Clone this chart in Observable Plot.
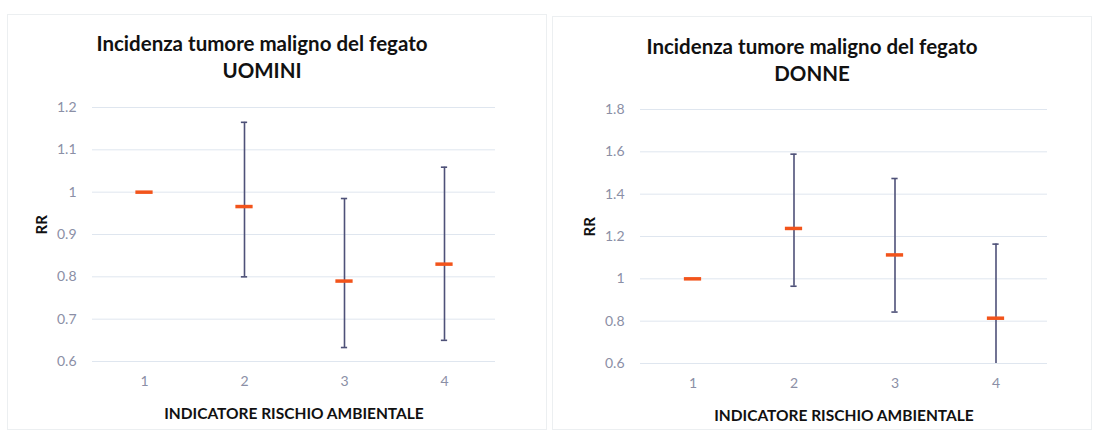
<!DOCTYPE html>
<html>
<head>
<meta charset="utf-8">
<script src="https://cdn.jsdelivr.net/npm/d3@7"></script>
<script src="https://cdn.jsdelivr.net/npm/@observablehq/plot@0.6"></script>
<style>
  html, body { margin: 0; padding: 0; background: #fff; }
  body { width: 1097px; height: 439px; position: relative; overflow: hidden; font-family: Lato, "Open Sans", sans-serif; }
  .panel { position: absolute; top: 0; }
  .frame { position: absolute; border: 1px solid #eceff1; }
  svg { display: block; }
</style>
</head>
<body>
<div class="frame" style="left:7px; top:14px; width:538px; height:414px;"></div>
<div class="frame" style="left:552px; top:16px; width:538px; height:412px;"></div>
<div id="left" class="panel" style="left:0px;"></div>
<div id="right" class="panel" style="left:548px;"></div>
<script>
// ---- data ----
const categories = [1, 2, 3, 4];

const titleLine1 = "Incidenza tumore maligno del fegato";
const xLabel = "INDICATORE RISCHIO AMBIENTALE";
const yLabel = "RR";

// UOMINI
const menTitle = "UOMINI";
const menRR    = [1.0, 0.966, 0.79, 0.83];
const menLower = [null, 0.80, 0.633, 0.65];
const menUpper = [null, 1.165, 0.985, 1.059];
const menTicks = [0.6, 0.7, 0.8, 0.9, 1.0, 1.1, 1.2];

// DONNE
const womenTitle = "DONNE";
const womenRR    = [1.0, 1.238, 1.113, 0.814];
const womenLower = [null, 0.965, 0.843, 0.57];
const womenUpper = [null, 1.589, 1.474, 1.164];
const womenTicks = [0.6, 0.8, 1.0, 1.2, 1.4, 1.6, 1.8];

const fmt = d => String(+d.toFixed(2));

function panel({title2, rr, lower, upper, ticks, width, marginLeft, marginRight, marginTop, marginBottom, t1dy, t2dy}) {
  const rows = categories.map((c, i) => ({c, rr: rr[i], lo: lower[i], hi: upper[i]}));
  const bars = rows.filter(d => d.lo != null);
  const plotW = width - marginLeft - marginRight;
  const bw = plotW / categories.length;
  const capW = 7, markW = 18;
  return Plot.plot({
    width, height: 439,
    marginLeft, marginRight, marginTop, marginBottom,
    style: {fontFamily: "Lato, 'Open Sans', sans-serif", background: "transparent"},
    x: {type: "band", domain: categories, padding: 0, axis: null},
    y: {domain: [ticks[0], ticks[ticks.length - 1]], axis: null},
    marks: [
      Plot.gridY(ticks, {stroke: "#dfe6ef", strokeOpacity: 1, strokeWidth: 1}),
      Plot.axisY(ticks, {tickSize: 0, tickPadding: 16, tickFormat: fmt, fontSize: 14, fill: "#8b8fa6", label: null}),
      Plot.axisX(categories, {tickSize: 0, tickPadding: 15, fontSize: 14, fill: "#8b8fa6", label: null}),
      Plot.ruleX(bars, {x: "c", y1: "lo", y2: "hi", stroke: "#4e5178", strokeWidth: 1.6, clip: true}),
      Plot.tickY(bars.filter(d => d.lo >= ticks[0]), {x: "c", y: "lo", stroke: "#4e5178", strokeWidth: 1.6, insetLeft: (bw - capW) / 2, insetRight: (bw - capW) / 2}),
      Plot.tickY(bars, {x: "c", y: "hi", stroke: "#4e5178", strokeWidth: 1.6, insetLeft: (bw - capW) / 2, insetRight: (bw - capW) / 2}),
      Plot.tickY(rows, {x: "c", y: "rr", stroke: "#f2541b", strokeWidth: 3.5, insetLeft: (bw - markW) / 2, insetRight: (bw - markW) / 2}),
      Plot.text([titleLine1], {frameAnchor: "top", dx: -32, dy: t1dy, lineAnchor: "bottom", fontSize: 20.5, fontWeight: "bold", fill: "#111"}),
      Plot.text([title2], {frameAnchor: "top", dx: -32, dy: t2dy, lineAnchor: "bottom", fontSize: 20.5, fontWeight: "bold", fill: "#111"}),
      Plot.text([yLabel], {frameAnchor: "left", dx: -50, rotate: -90, fontSize: 15, fontWeight: "bold", fill: "#111"}),
      Plot.text([xLabel], {frameAnchor: "bottom", dy: 57, fontSize: 15.5, fontWeight: "bold", fill: "#111", lineAnchor: "bottom"})
    ]
  });
}

document.getElementById("left").append(panel({
  title2: menTitle, rr: menRR, lower: menLower, upper: menUpper, ticks: menTicks,
  width: 548, marginLeft: 92, marginRight: 53, marginTop: 107, marginBottom: 78, t1dy: -57, t2dy: -30
}));
document.getElementById("right").append(panel({
  title2: womenTitle, rr: womenRR, lower: womenLower, upper: womenUpper, ticks: womenTicks,
  width: 549, marginLeft: 92, marginRight: 50, marginTop: 109, marginBottom: 76, t1dy: -56, t2dy: -29
}));
</script>
</body>
</html>
